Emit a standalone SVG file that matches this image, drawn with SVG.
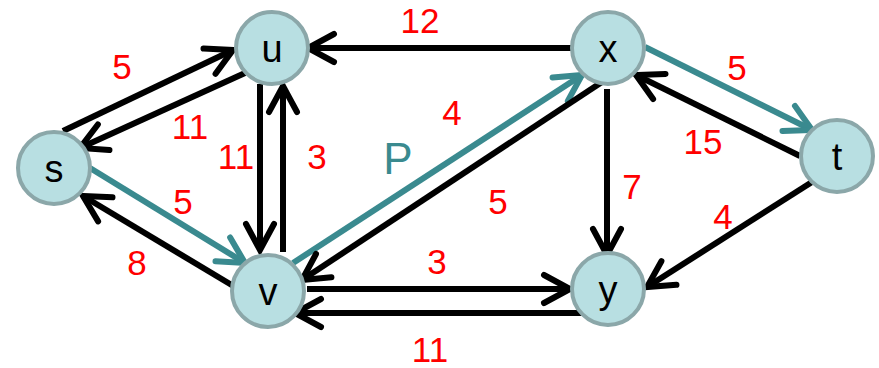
<svg xmlns="http://www.w3.org/2000/svg" width="879" height="368" viewBox="0 0 879 368">
<style>
.e{stroke:#000;stroke-width:6;fill:none}
.p{stroke:#3a8a8f;stroke-width:6;fill:none}
.n circle{fill:#b8dfe2;stroke:#8ba7a9;stroke-width:4}
.n text{font-family:"Liberation Sans",Arial,sans-serif;font-size:38px;fill:#000;text-anchor:middle}
.l{font-family:"Liberation Sans",Arial,sans-serif;font-size:35px;fill:#ff0000;text-anchor:middle}
</style>
<defs>
<marker id="ab" markerUnits="userSpaceOnUse" markerWidth="40" markerHeight="40" viewBox="-34 -20 40 40" refX="0" refY="0" orient="auto" overflow="visible">
<path d="M-26,-14 L0,0 L-26,14" fill="none" stroke="#000" stroke-width="6" stroke-linecap="round" stroke-linejoin="miter"/>
</marker>
<marker id="at" markerUnits="userSpaceOnUse" markerWidth="40" markerHeight="40" viewBox="-34 -20 40 40" refX="0" refY="0" orient="auto" overflow="visible">
<path d="M-26,-14 L0,0 L-26,14" fill="none" stroke="#3a8a8f" stroke-width="6" stroke-linecap="round" stroke-linejoin="miter"/>
</marker>
</defs>
<g id="connectors">
<line class="e" x1="63" y1="131" x2="233" y2="50" marker-end="url(#ab)"/>
<line class="e" x1="245" y1="73" x2="80" y2="148" marker-end="url(#ab)"/>
<line class="e" x1="260" y1="84" x2="260" y2="250" marker-end="url(#ab)"/>
<line class="e" x1="283" y1="252" x2="283" y2="86" marker-end="url(#ab)"/>
<line class="p" x1="90" y1="168" x2="245" y2="263" marker-end="url(#at)"/>
<line class="e" x1="235" y1="287" x2="83" y2="196" marker-end="url(#ab)"/>
<line class="e" x1="572" y1="48" x2="308" y2="48" marker-end="url(#ab)"/>
<line class="p" x1="293" y1="263" x2="582" y2="75" marker-end="url(#at)"/>
<line class="e" x1="605" y1="80" x2="302" y2="280" marker-end="url(#ab)"/>
<line class="e" x1="307" y1="289" x2="570" y2="289" marker-end="url(#ab)"/>
<line class="e" x1="582" y1="313" x2="295" y2="313" marker-end="url(#ab)"/>
<line class="e" x1="607" y1="89" x2="607" y2="255" marker-end="url(#ab)"/>
<line class="p" x1="645" y1="47" x2="812" y2="130" marker-end="url(#at)"/>
<line class="e" x1="800" y1="156" x2="636" y2="75" marker-end="url(#ab)"/>
<line class="e" x1="812" y1="182" x2="647" y2="287" marker-end="url(#ab)"/>
</g>
<g id="labels">
<text class="l" x="122" y="79">5</text>
<text class="l" x="190" y="139">11</text>
<text class="l" x="236" y="169">11</text>
<text class="l" x="317" y="169">3</text>
<text class="l" x="183" y="214">5</text>
<text class="l" x="137" y="275">8</text>
<text class="l" x="420" y="33">12</text>
<text class="l" x="452" y="125">4</text>
<text x="398" y="174" style="font-family:'Liberation Sans',Arial,sans-serif;font-size:44px;fill:#3a8a8f;text-anchor:middle">P</text>
<text class="l" x="498" y="214">5</text>
<text class="l" x="437" y="274">3</text>
<text class="l" x="430" y="362">11</text>
<text class="l" x="737" y="80">5</text>
<text class="l" x="703" y="154">15</text>
<text class="l" x="632" y="199">7</text>
<text class="l" x="723" y="229">4</text>
</g>
<g id="node-s" class="n"><circle cx="54" cy="168" r="36"/><text x="54" y="182">s</text></g>
<g id="node-u" class="n"><circle cx="272" cy="48" r="36"/><text x="272" y="62">u</text></g>
<g id="node-v" class="n"><circle cx="268" cy="291" r="36"/><text x="268" y="305">v</text></g>
<g id="node-x" class="n"><circle cx="608" cy="48" r="36"/><text x="608" y="62">x</text></g>
<g id="node-t" class="n"><circle cx="837" cy="156" r="36"/><text x="837" y="170">t</text></g>
<g id="node-y" class="n"><circle cx="608" cy="289" r="36"/><text x="608" y="303">y</text></g>
</svg>
